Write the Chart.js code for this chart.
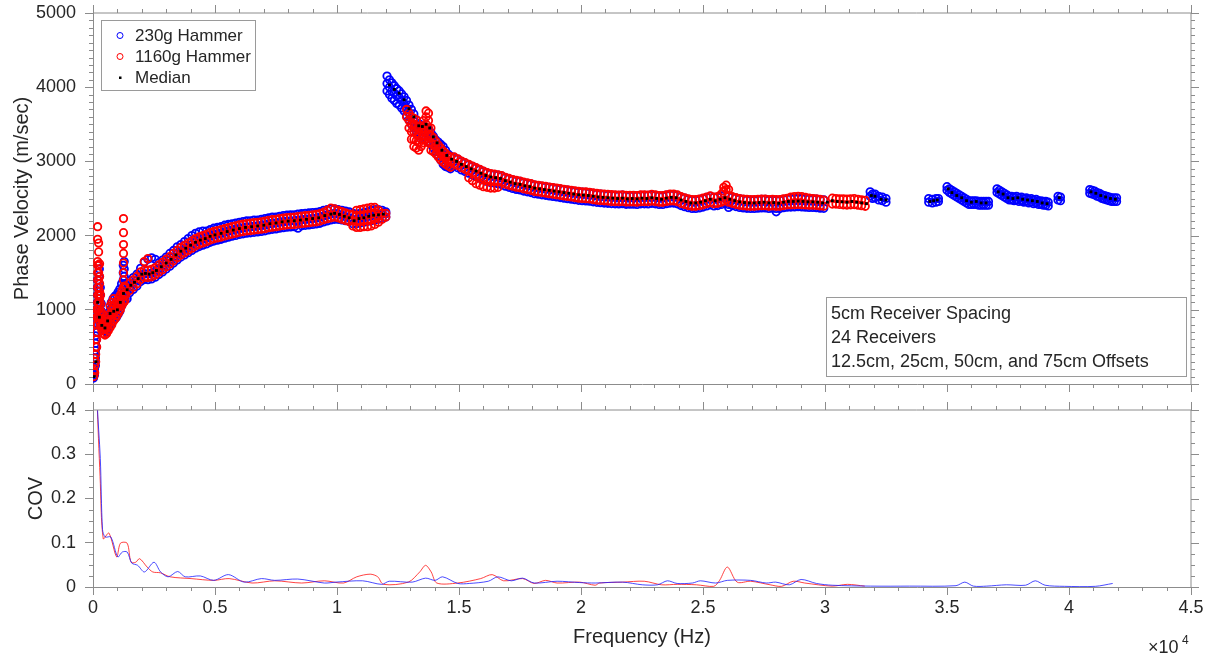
<!DOCTYPE html>
<html>
<head>
<meta charset="utf-8">
<script src="https://cdn.jsdelivr.net/npm/chart.js@4.4.1/dist/chart.umd.min.js"></script>
<style>
  html, body { margin: 0; padding: 0; background: #fff; }
  #wrap { position: relative; width: 1209px; height: 657px; }
  #topBox { position: absolute; left: 0; top: 0; width: 1209px; height: 395px; }
  #botBox { position: absolute; left: 0; top: 395px; width: 1209px; height: 262px; }
</style>
</head>
<body>
<div id="wrap">
  <div id="topBox"><canvas id="velChart" width="1209" height="395"></canvas></div>
  <div id="botBox"><canvas id="covChart" width="1209" height="262"></canvas></div>
</div>
<script>
// ---- data: [frequency Hz, velocity m/s, velocity m/s, ...] ----
// every listed velocity at a frequency is one marker
const hammer230 = [
  [20,80,150,230],[60,120,200,300,400],[100,250,350,450,550,650],[140,500,600,700,800,900,1000],
  [180,700,800,900,1000,1100,1200,1300,1400],[220,800,900,1000,1100,1200,1300,1400,1500,1600],
  [260,850,950,1050,1150,1250,1350,1450,1550],[300,800,900,1000,1100,1200,1300],[340,780,880,980,1080],
  [400,740,830,920],[470,720,800,880],[540,700,790,870],[610,740,830,920],[680,780,880,980],
  [750,820,920,1020,1100],[820,850,950,1050,1150],[890,880,980,1080,1180],[960,900,1000,1100,1200],
  [1030,940,1040,1140,1240],[1100,980,1080,1180,1280],[1170,1050,1150,1250,1350],
  [1240,1100,1200,1300,1400,1500,1600],[1280,1150,1250,1350,1450,1550,1650],[1320,1150,1250,1350],[1400,1150,1250,1360],
  [1500,1230,1310,1390],[1650,1275,1355,1435],[1800,1320,1400,1480],[1950,1380,1460,1560],[2100,1407,1487,1640],
  [2250,1405,1485,1680],[2400,1415,1495,1700],[2550,1440,1520,1680],[2700,1475,1555,1635],[2850,1510,1590,1670],
  [3000,1550,1630,1710],[3150,1588,1668,1760],[3300,1630,1710,1800],[3450,1672,1752,1850],[3600,1710,1790,1880],
  [3750,1740,1820,1920],[3900,1770,1850,1960],[4050,1800,1880,2000],[4200,1830,1910,2030],[4350,1852,1932,2050],
  [4500,1870,1950,2060],[4650,1888,1968,2060],[4800,1910,1990,2080],[4950,1926,2006,2100],[5100,1938,2018,2110],
  [5250,1950,2030,2120],[5400,1965,2045,2140],[5550,1979,2059,2150],[5700,1991,2071,2160],[5850,2003,2083,2170],
  [6000,2015,2095,2180],[6150,2024,2104,2190],[6300,2032,2112,2200],[6450,2038,2118,2200],[6600,2044,2124,2210],
  [6750,2050,2130,2210],[6900,2056,2136,2220],[7050,2064,2144,2230],[7200,2076,2156,2240],[7350,2084,2164,2250],
  [7500,2090,2170,2250],[7650,2099,2179,2260],[7800,2107,2187,2270],[7950,2113,2193,2275],[8100,2117,2197,2280],
  [8250,2120,2200,2280],[8400,2100,2206,2290],[8550,2132,2212,2295],[8700,2138,2218,2300],[8850,2144,2224,2305],
  [9000,2150,2230,2310],[9150,2156,2236,2315],[9300,2166,2246,2325],[9450,2184,2264,2340],[9600,2198,2278,2350],
  [9750,2210,2290,2360],[9900,2220,2300,2360],[10050,2220,2289,2350],[10200,2210,2272,2340],[10350,2200,2255,2330],
  [10500,2190,2240,2320],[10650,2160,2210,2300],[10800,2160,2215,2290],[10950,2170,2232,2300],[11100,2180,2240,2310],
  [11250,2190,2255,2320],[11400,2200,2267,2340],[11550,2210,2276,2350],[11700,2220,2280,2350],[11850,2230,2288,2340],
  [12000,2250,2295,2320],
  [12050,3950,4050,4150],[12150,3900,4000,4100],[12250,3850,3950,4060],[12350,3820,3920,4020],[12450,3780,3880,3980],
  [12550,3760,3860,3950],[12650,3720,3820,3910],[12750,3680,3780,3870],[12850,3620,3720,3820],[12950,3560,3660,3760],
  [13050,3500,3600,3700],[13150,3450,3540,3640],[13250,3400,3480,3560],[13350,3350,3430,3510],[13450,3330,3410,3490],
  [13550,3320,3400,3480],[13650,3300,3380,3460],[13750,3270,3350,3430],[13850,3230,3310,3390],[13950,3180,3260,3340],
  [14050,3130,3210,3290],[14150,3080,3170,3260],[14250,3020,3120,3230],[14350,2960,3080,3200],[14450,2930,3040,3150],
  [14550,2920,3010,3100],[14650,2900,2990,3070],
  [14800,2940,3055],[14950,2915,3030],[15100,2885,3000],[15250,2863,2978],[15400,2840,2955],[15550,2818,2933],
  [15700,2795,2910],[15850,2773,2888],[16000,2750,2865],[16150,2730,2845],[16300,2715,2830],[16450,2708,2823],
  [16600,2700,2815],[16750,2688,2803],[16900,2665,2780],[17050,2650,2765],[17200,2635,2750],[17350,2623,2738],
  [17500,2615,2730],[17650,2600,2715],[17800,2590,2705],[17950,2580,2695],[18100,2565,2680],[18250,2558,2673],
  [18400,2550,2665],[18550,2543,2658],[18700,2535,2650],[18850,2528,2643],[19000,2520,2635],[19150,2513,2628],
  [19300,2505,2620],[19450,2498,2613],[19600,2490,2605],[19750,2483,2598],[19900,2475,2590],[20050,2471,2586],
  [20200,2468,2583],[20350,2463,2578],[20500,2455,2570],[20650,2448,2563],[20800,2443,2558],[20950,2439,2554],
  [21100,2435,2550],[21250,2431,2546],[21400,2428,2543],[21550,2426,2541],[21700,2430,2545],[21850,2422,2537],
  [22000,2423,2538],[22150,2424,2539],[22300,2420,2535],[22450,2428,2543],[22600,2428,2543],[22750,2427,2542],
  [22900,2435,2550],[23050,2428,2543],[23200,2420,2535],[23350,2419,2534],[23500,2430,2545],[23650,2438,2553],
  [23800,2438,2553],[23950,2428,2543],[24100,2405,2520],[24250,2390,2505],[24400,2375,2490],[24550,2365,2480],
  [24700,2365,2480],[24850,2373,2488],[25000,2385,2500],[25150,2400,2515],[25300,2415,2530],[25450,2400,2515],
  [25600,2405,2520],[25750,2420,2535],[25900,2435,2550],[26050,2380,2420,2535],[26200,2405,2520],[26350,2391,2506],
  [26500,2380,2495],[26650,2373,2488],[26800,2368,2483],[26950,2365,2480],[27100,2365,2480],[27250,2369,2484],
  [27400,2373,2488],[27550,2373,2488],[27700,2365,2480],[27850,2369,2484],[28000,2320,2365,2480],[28150,2364,2479],
  [28300,2375,2490],[28450,2383,2498],[28600,2385,2500],[28750,2386,2501],[28900,2390,2505],[29050,2386,2501],
  [29200,2383,2498],[29350,2380,2495],[29500,2380,2495],[29650,2376,2491],[29800,2370,2485],[29950,2367,2482],
  [31850,2530,2590],[31950,2500,2560],[32050,2510,2560],[32200,2480,2530],[32350,2470,2520],[32500,2450,2500],
  [34250,2450,2500],[34400,2440,2490],[34550,2450,2500],[34650,2460,2500],
  [35000,2610,2660],[35100,2580,2630],[35200,2560,2610],[35300,2540,2590],[35400,2520,2570],[35500,2500,2550],
  [35600,2480,2530],[35700,2460,2510],[35800,2440,2490],[35900,2420,2470],[36000,2420,2470],[36100,2420,2470],
  [36200,2420,2470],[36300,2410,2460],[36400,2410,2460],[36500,2410,2460],[36600,2410,2460],[36700,2410,2460],
  [37050,2580,2630],[37150,2560,2610],[37250,2540,2590],[37350,2520,2570],[37450,2500,2550],[37550,2480,2530],
  [37650,2480,2530],[37750,2470,2520],[37850,2480,2530],[37950,2460,2510],[38050,2470,2520],[38150,2450,2500],
  [38250,2460,2510],[38350,2440,2490],[38450,2450,2500],[38550,2430,2480],[38650,2440,2490],[38750,2420,2470],
  [38850,2420,2470],[38950,2410,2460],[39050,2410,2460],[39150,2400,2450],
  [39550,2480,2530],[39650,2470,2520],
  [40850,2570,2620],[40950,2560,2610],[41050,2550,2600],[41150,2530,2580],[41250,2520,2570],[41350,2500,2550],
  [41450,2490,2540],[41550,2480,2530],[41650,2470,2520],[41750,2460,2510],[41850,2460,2510],[41950,2460,2510]
];

const hammer1160 = [
  [30,100,180],[70,150,250,350],[110,300,400,500,600],[150,500,600,700,800,900,1000],
  [190,800,900,1000,1100,1200,1300,1400,1500,1600,1650,1950,2120],[230,900,1000,1100,1200,1300,1400,1500,1600,1780,1900],
  [270,850,950,1050,1150,1250,1350,1450,1620],[310,780,880,980,1080,1200],[360,720,800,880,960],
  [420,680,760,840],[490,660,740,820],[560,680,760,850],[630,720,800,900],[700,760,850,950,1050],
  [770,800,900,1000,1100],[840,850,950,1050,1150],[910,880,980,1080],[980,920,1020,1120],[1050,960,1060,1160],
  [1120,1000,1100,1200],[1190,1060,1160,1260],[1250,1100,1200,1300,1400,1500,1630,1760,1880,2040,2230],[1300,1120,1220,1320],
  [1350,1205,1305],[1500,1260,1360],[1650,1305,1405],[1800,1350,1450],[1950,1410,1510],[2100,1437,1537,1650],
  [2250,1435,1535,1690],[2400,1445,1545],[2550,1470,1570],[2700,1505,1605],[2850,1540,1640],[3000,1580,1680],
  [3150,1618,1718],[3300,1660,1760],[3450,1702,1802],[3600,1740,1840],[3750,1770,1870],[3900,1800,1900],
  [4050,1830,1930],[4200,1860,1960],[4350,1882,1982],[4500,1900,2000],[4650,1918,2018],[4800,1940,2040],
  [4950,1956,2056],[5100,1968,2068],[5250,1980,2080],[5400,1995,2095],[5550,2009,2109],[5700,2021,2121],
  [5850,2033,2133],[6000,2045,2145],[6150,2054,2154],[6300,2062,2162],[6450,2068,2168],[6600,2074,2174],
  [6750,2080,2180],[6900,2086,2186],[7050,2094,2194],[7200,2106,2206],[7350,2114,2214],[7500,2120,2220],
  [7650,2129,2229],[7800,2137,2237],[7950,2143,2243],[8100,2147,2247],[8250,2150,2250],[8400,2156,2256],
  [8550,2162,2262],[8700,2168,2268],[8850,2174,2274],[9000,2180,2280],[9150,2186,2286],[9300,2196,2296],
  [9450,2214,2314],[9600,2228,2340],[9750,2240,2370],[9900,2250,2360],[10050,2239,2339],[10200,2222,2322],
  [10350,2205,2305],[10500,2190,2290],[10650,2130,2200,2280],[10800,2110,2190,2270,2340],[10950,2110,2190,2270,2350],
  [11100,2120,2200,2280,2360],[11250,2120,2200,2280,2370],[11400,2130,2210,2290,2380],[11550,2150,2230,2310,2380],
  [11700,2180,2260,2340],[11850,2220,2300],[12000,2250,2300],
  [12850,3600,3700],[12950,3450,3550,3650],[13050,3300,3400,3500,3600],[13150,3200,3300,3400,3500,3580],
  [13250,3180,3280,3380,3480,3560],[13350,3150,3250,3350,3450],[13450,3200,3300,3400,3480],[13550,3250,3350,3450,3550],
  [13650,3300,3400,3500,3600,3680],[13750,3250,3350,3450,3550,3650],[13850,3150,3250,3350,3450],[13950,3130,3230,3320],
  [14050,3100,3190,3270],[14150,3060,3140,3220],[14250,3020,3100,3180],[14350,2990,3070,3140],[14450,2960,3040,3110],
  [14550,2940,3010,3080],[14650,2920,2990,3060],
  [14800,2970,3060],[14950,2945,3035],[15100,2915,3005],[15250,2893,2983],[15400,2780,2870,2960],[15550,2740,2848,2938],
  [15700,2700,2825,2915],[15850,2680,2803,2893],[16000,2660,2780,2870],[16150,2650,2760,2850],[16300,2640,2745,2835],
  [16450,2640,2738,2828],[16600,2650,2730,2820],[16750,2718,2808],[16900,2695,2785],[17050,2680,2770],[17200,2665,2755],
  [17350,2653,2743],[17500,2645,2735],[17650,2630,2720],[17800,2620,2710],[17950,2610,2700],[18100,2595,2685],
  [18250,2588,2678],[18400,2580,2670],[18550,2573,2663],[18700,2565,2655],[18850,2558,2648],[19000,2550,2640],
  [19150,2543,2633],[19300,2535,2625],[19450,2528,2618],[19600,2520,2610],[19750,2513,2603],[19900,2505,2595],
  [20050,2501,2591],[20200,2498,2588],[20350,2493,2583],[20500,2485,2575],[20650,2478,2568],[20800,2473,2563],
  [20950,2469,2559],[21100,2465,2555],[21250,2461,2551],[21400,2458,2548],[21550,2456,2546],[21700,2460,2550],
  [21850,2452,2542],[22000,2453,2543],[22150,2454,2544],[22300,2450,2540],[22450,2458,2548],[22600,2458,2548],
  [22750,2457,2547],[22900,2465,2555],[23050,2458,2548],[23200,2450,2540],[23350,2449,2539],[23500,2460,2550],
  [23650,2468,2558],[23800,2468,2558],[23950,2458,2548],[24100,2435,2525],[24250,2420,2510],[24400,2405,2495],
  [24550,2395,2485],[24700,2395,2485],[24850,2403,2493],[25000,2415,2505],[25150,2430,2520],[25300,2445,2535],
  [25450,2430,2520],[25600,2435,2525],[25750,2450,2560],[25850,2470,2600,2650],[25950,2480,2620,2680],[26050,2450,2540,2620],
  [26200,2435,2525],[26350,2421,2511],[26500,2410,2500],[26650,2403,2493],[26800,2398,2488],[26950,2395,2485],
  [27100,2395,2485],[27250,2399,2489],[27400,2403,2493],[27550,2403,2493],[27700,2395,2485],[27850,2399,2489],
  [28000,2395,2485],[28150,2394,2484],[28300,2405,2495],[28450,2413,2503],[28600,2415,2520],[28750,2416,2526],
  [28900,2420,2530],[29050,2416,2525],[29200,2413,2515],[29350,2410,2505],[29500,2410,2500],[29650,2406,2496],
  [29800,2400,2490],[29950,2397,2480],
  [30300,2425,2505],[30450,2425,2500],[30600,2420,2495],[30750,2415,2495],[30900,2411,2491],[31050,2415,2495],
  [31200,2418,2498],[31350,2410,2490],[31500,2403,2483],[31650,2395,2475]
];

const medianVel = [
  [50,100],[120,300],[190,1100],[260,900],[360,790],[490,755],[600,850],[700,950],[850,980],[1000,1000],[1120,1100],[1250,1220],[1400,1270],[1550,1330],[1700,1370],[1850,1420],[2000,1480],[2150,1490],[2300,1480],[2450,1500],[2600,1530],[2800,1580],[3000,1630],[3200,1680],[3400,1740],[3600,1790],[3800,1830],[4000,1870],[4200,1910],[4400,1940],[4600,1960],[4800,1990],[5000,2010],[5250,2030],[5500,2055],[5750,2075],[6000,2095],[6250,2110],[6500,2120],[6750,2130],[7000,2140],[7250,2160],[7500,2170],[7750,2185],[8000,2195],[8250,2200],[8500,2210],[8750,2220],[9000,2230],[9250,2240],[9500,2270],[9750,2290],[9900,2300],[10100,2285],[10300,2260],[10500,2240],[10700,2200],[10900,2230],[11100,2240],[11300,2260],[11500,2275],[11700,2280],[11900,2290],
  [12150,4030],[12350,3970],[12550,3920],[12750,3830],[12950,3710],[13150,3600],[13350,3480],[13500,3470],[13650,3500],[13800,3450],[13950,3330],[14100,3250],[14300,3150],[14500,3080],[14700,3030],[14900,3000],[15100,2960],[15300,2930],[15500,2900],[15700,2870],[15900,2840],[16100,2810],[16300,2790],[16500,2780],[16700,2770],[16900,2740],[17100,2720],[17300,2700],[17500,2690],[17700,2670],[17900,2660],[18100,2640],[18300,2630],[18500,2620],[18700,2610],[18900,2600],[19100,2590],[19300,2580],[19500,2570],[19700,2560],[19900,2550],[20100,2545],[20300,2540],[20500,2530],[20700,2520],[20900,2515],[21100,2510],[21300,2505],[21500,2500],[21700,2505],[21900,2495],[22100,2500],[22300,2495],[22500,2505],[22700,2500],[22900,2510],[23100,2500],[23300,2490],[23500,2505],[23700,2515],[23900,2510],[24100,2480],[24300,2460],[24500,2440],[24700,2440],[24900,2450],[25100,2470],[25300,2490],[25500,2470],[25700,2490],[25900,2510],[26100,2490],[26300,2470],[26500,2455],[26700,2445],[26900,2440],[27100,2440],[27300,2445],[27500,2450],[27700,2440],[27900,2445],[28100,2435],[28300,2450],[28500,2460],[28700,2460],[28900,2465],[29100,2460],[29300,2455],[29500,2455],[29700,2450],[29900,2440],[30100,2450],[30300,2470],[30500,2460],[30700,2455],[30900,2450],[31100,2460],[31300,2450],[31500,2440],[31700,2430],
  [31900,2540],[32050,2530],[32300,2490],[32500,2480],[34300,2460],[34450,2470],[34600,2480],[35050,2630],[35200,2580],[35400,2540],[35600,2510],[35800,2470],[36000,2450],[36200,2460],[36400,2440],[36600,2440],[37100,2590],[37300,2560],[37500,2510],[37700,2500],[37900,2510],[38100,2490],[38300,2480],[38500,2470],[38700,2460],[38900,2440],[39100,2430],[39600,2510],[40900,2590],[41100,2570],[41300,2540],[41500,2520],[41700,2500],[41900,2490]
];

// ---- COV curves: [frequency Hz, coefficient of variation] ----
const cov230 = [
  [120,0.6],[170,0.42],[300,0.29],[390,0.13],[500,0.113],[730,0.113],[1015,0.068],[1200,0.079],[1400,0.079],[1590,0.054],[1830,0.049],[2110,0.034],[2500,0.056],[2770,0.034],[3080,0.023],[3470,0.035],[3780,0.023],[4400,0.025],[4950,0.015],[5550,0.028],[6200,0.011],[6900,0.019],[7450,0.015],[8390,0.018],[9480,0.009],[9950,0.011],[11050,0.014],[11830,0.006],[12140,0.013],[13080,0.011],[13630,0.020],[14020,0.015],[14330,0.023],[14950,0.008],[15420,0.008],[16200,0.013],[16590,0.023],[17140,0.014],[17610,0.020],[18080,0.009],[19020,0.013],[19950,0.010],[20580,0.009],[21710,0.011],[22510,0.005],[23140,0.005],[23540,0.014],[23940,0.008],[24570,0.009],[24890,0.014],[25520,0.009],[26000,0.015],[26950,0.015],[27590,0.009],[27980,0.011],[28540,0.005],[29020,0.017],[29650,0.008],[30290,0.004],[31870,0.002],[33460,0.002],[35370,0.003],[35730,0.011],[36080,0.002],[36630,0.002],[37430,0.005],[38220,0.004],[38620,0.014],[39020,0.004],[39810,0.0015],[41080,0.0015],[41790,0.008]
];
const cov1160 = [
  [120,0.6],[170,0.42],[290,0.25],[420,0.109],[650,0.122],[970,0.068],[1125,0.099],[1400,0.099],[1560,0.056],[1750,0.056],[1910,0.064],[2220,0.045],[2450,0.034],[2770,0.032],[3160,0.023],[4020,0.019],[4950,0.015],[5580,0.019],[6520,0.009],[7450,0.014],[8550,0.009],[9480,0.014],[10270,0.009],[10810,0.023],[11360,0.029],[11670,0.023],[11900,0.006],[12920,0.011],[13390,0.034],[13630,0.049],[13860,0.034],[14090,0.009],[14950,0.009],[15890,0.019],[16360,0.028],[16830,0.014],[17610,0.019],[18080,0.008],[18550,0.015],[19020,0.009],[19950,0.011],[20580,0.004],[20760,0.009],[21710,0.011],[22590,0.013],[23300,0.005],[23940,0.006],[24730,0.005],[25440,0.0015],[25680,0.015],[26000,0.045],[26400,0.011],[26950,0.013],[27750,0.005],[28220,0.0015],[28700,0.013],[29170,0.009],[30290,0.002],[30920,0.006],[31630,0.002]
];

const freqTicksMax = 45000;
const legendLabels = ['230g Hammer', '1160g Hammer', 'Median'];
const noteLines = ['5cm Receiver Spacing', '24 Receivers', '12.5cm, 25cm, 50cm, and 75cm Offsets'];

const FONT = "'Liberation Sans', Arial, Helvetica, sans-serif";
const AXIS = '#8c8c8c';
const TXT = '#262626';
Chart.defaults.font.family = FONT;
Chart.defaults.color = TXT;

// one point per listed value
const toXY = arr => arr.flatMap(([f, ...vs]) => vs.map(v => ({x: f, y: v})));

// outward ticks on all four sides, MATLAB style
const boxTicks = {
  id: 'boxTicks',
  afterDraw(chart, args, opts) {
    const {ctx, chartArea: a, scales} = chart;
    const x = scales.x, y = scales.y;
    ctx.save();
    ctx.strokeStyle = AXIS;
    ctx.lineWidth = 1;
    ctx.beginPath();
    ctx.moveTo(a.left, a.top); ctx.lineTo(a.right, a.top); ctx.lineTo(a.right, a.bottom);
    ctx.stroke();
    ctx.beginPath();
    for (let v = 0; v <= freqTicksMax; v += 1000) {
      const px = Math.round(x.getPixelForValue(v)) + 0.5;
      const major = v % 5000 === 0;
      const len = major ? 8 : 4;
      ctx.moveTo(px, a.top); ctx.lineTo(px, a.top - len);
      if (!major) { ctx.moveTo(px, a.bottom); ctx.lineTo(px, a.bottom + len); }
    }
    const step = opts.minorY, majorY = opts.majorY;
    for (let i = 0; i * step <= y.max + 1e-9; i++) {
      const v = i * step;
      const py = Math.round(y.getPixelForValue(v)) + 0.5;
      const major = Math.abs(v / majorY - Math.round(v / majorY)) < 1e-6;
      const len = major ? 8 : 4;
      ctx.moveTo(a.right, py); ctx.lineTo(a.right + len, py);
      if (!major) { ctx.moveTo(a.left, py); ctx.lineTo(a.left - len, py); }
    }
    ctx.stroke();
    ctx.restore();
  }
};

// legend box and the text box in the upper panel
const panelText = {
  id: 'panelText',
  afterDraw(chart) {
    const {ctx} = chart;
    ctx.save();
    ctx.fillStyle = '#fff';
    ctx.fillRect(101.5, 20.5, 154, 70);
    ctx.strokeStyle = '#9a9a9a';
    ctx.lineWidth = 1;
    ctx.strokeRect(101.5, 20.5, 154, 70);
    ctx.font = '17px ' + FONT;
    ctx.fillStyle = TXT;
    ctx.textBaseline = 'middle';
    const rows = [35.5, 56.5, 77.5];
    legendLabels.forEach((t, i) => ctx.fillText(t, 135, rows[i] + 1));
    ctx.strokeStyle = '#0000ff';
    ctx.beginPath(); ctx.arc(120, rows[0], 3, 0, Math.PI * 2); ctx.stroke();
    ctx.strokeStyle = '#ff0000';
    ctx.beginPath(); ctx.arc(120, rows[1], 3, 0, Math.PI * 2); ctx.stroke();
    ctx.fillStyle = '#000';
    ctx.fillRect(119, rows[2] - 1, 2.5, 2.5);
    ctx.fillStyle = '#fff';
    ctx.fillRect(826.5, 297.5, 360, 79);
    ctx.strokeStyle = '#9a9a9a';
    ctx.strokeRect(826.5, 297.5, 360, 79);
    ctx.fillStyle = TXT;
    ctx.font = '18px ' + FONT;
    const ny = [313.5, 337.5, 361];
    noteLines.forEach((t, i) => ctx.fillText(t, 831, ny[i] + 1));
    ctx.restore();
  }
};

// the x10^4 exponent under the lower panel
const expLabel = {
  id: 'expLabel',
  afterDraw(chart) {
    const {ctx} = chart;
    ctx.save();
    ctx.fillStyle = TXT;
    ctx.textBaseline = 'alphabetic';
    ctx.font = '18px ' + FONT;
    ctx.fillText('\u00d710', 1148, 258);
    ctx.font = '12px ' + FONT;
    ctx.fillText('4', 1182, 249);
    ctx.restore();
  }
};

const xScaleBase = (showLabels, height) => ({
  type: 'linear',
  min: 0,
  max: freqTicksMax,
  afterFit: s => { s.height = height; s.paddingLeft = 0; s.paddingRight = 0; },
  border: {display: true, color: AXIS, width: 1},
  grid: {display: true, drawOnChartArea: false, drawTicks: true, tickLength: 8, color: AXIS},
  ticks: {
    display: showLabels,
    stepSize: 5000,
    padding: 2,
    color: TXT,
    font: {size: 18},
    maxRotation: 0,
    callback: v => String(v / 10000)
  },
  title: showLabels ? {display: true, text: 'Frequency (Hz)', color: TXT, font: {size: 20}, padding: {top: 0, bottom: 8}} : {display: false}
});

const yScaleBase = (max, step, title, titlePad, fmt) => ({
  type: 'linear',
  min: 0,
  max: max,
  afterFit: s => { s.width = 93; s.paddingTop = 0; s.paddingBottom = 0; },
  border: {display: true, color: AXIS, width: 1},
  grid: {display: true, drawOnChartArea: false, drawTicks: true, tickLength: 8, color: AXIS},
  ticks: {stepSize: step, padding: 9, color: TXT, font: {size: 18}, callback: fmt},
  title: {display: true, text: title, color: TXT, font: {size: 20}, padding: {top: titlePad, bottom: 0}}
});

new Chart(document.getElementById('velChart'), {
  type: 'scatter',
  data: {
    datasets: [
      {label: legendLabels[0], data: toXY(hammer230), order: 2, pointStyle: 'circle', pointRadius: 3.7, borderWidth: 1.8, borderColor: '#0000ff', backgroundColor: 'rgba(0,0,0,0)'},
      {label: legendLabels[1], data: toXY(hammer1160), order: 1, pointStyle: 'circle', pointRadius: 3.7, borderWidth: 1.8, borderColor: '#ff0000', backgroundColor: 'rgba(0,0,0,0)'},
      {label: legendLabels[2], data: toXY(medianVel), order: 0, pointStyle: 'rect', pointRadius: 2, borderWidth: 0, borderColor: '#000', backgroundColor: '#000'}
    ]
  },
  options: {
    responsive: false,
    animation: false,
    devicePixelRatio: 1,
    layout: {padding: {top: 13, right: 18, left: 0, bottom: 0}},
    plugins: {legend: {display: false}, tooltip: {enabled: false}, boxTicks: {minorY: 100, majorY: 1000}},
    scales: {
      x: xScaleBase(false, 11),
      y: yScaleBase(5000, 1000, 'Phase Velocity (m/sec)', 10, v => String(v))
    }
  },
  plugins: [boxTicks, panelText]
});

new Chart(document.getElementById('covChart'), {
  type: 'scatter',
  data: {
    datasets: [
      {label: legendLabels[0], data: toXY(cov230), showLine: true, pointRadius: 0, borderWidth: 1, borderColor: 'rgba(30,30,255,0.8)', tension: 0.3},
      {label: legendLabels[1], data: toXY(cov1160), showLine: true, pointRadius: 0, borderWidth: 1, borderColor: 'rgba(255,20,20,0.8)', tension: 0.3}
    ]
  },
  options: {
    responsive: false,
    animation: false,
    devicePixelRatio: 1,
    layout: {padding: {top: 15, right: 18, left: 0, bottom: 0}},
    plugins: {legend: {display: false}, tooltip: {enabled: false}, boxTicks: {minorY: 0.025, majorY: 0.1}},
    scales: {
      x: xScaleBase(true, 70),
      y: yScaleBase(0.4, 0.1, 'COV', 24, v => String(Math.round(v * 10) / 10))
    }
  },
  plugins: [boxTicks, expLabel]
});
</script>
</body>
</html>
